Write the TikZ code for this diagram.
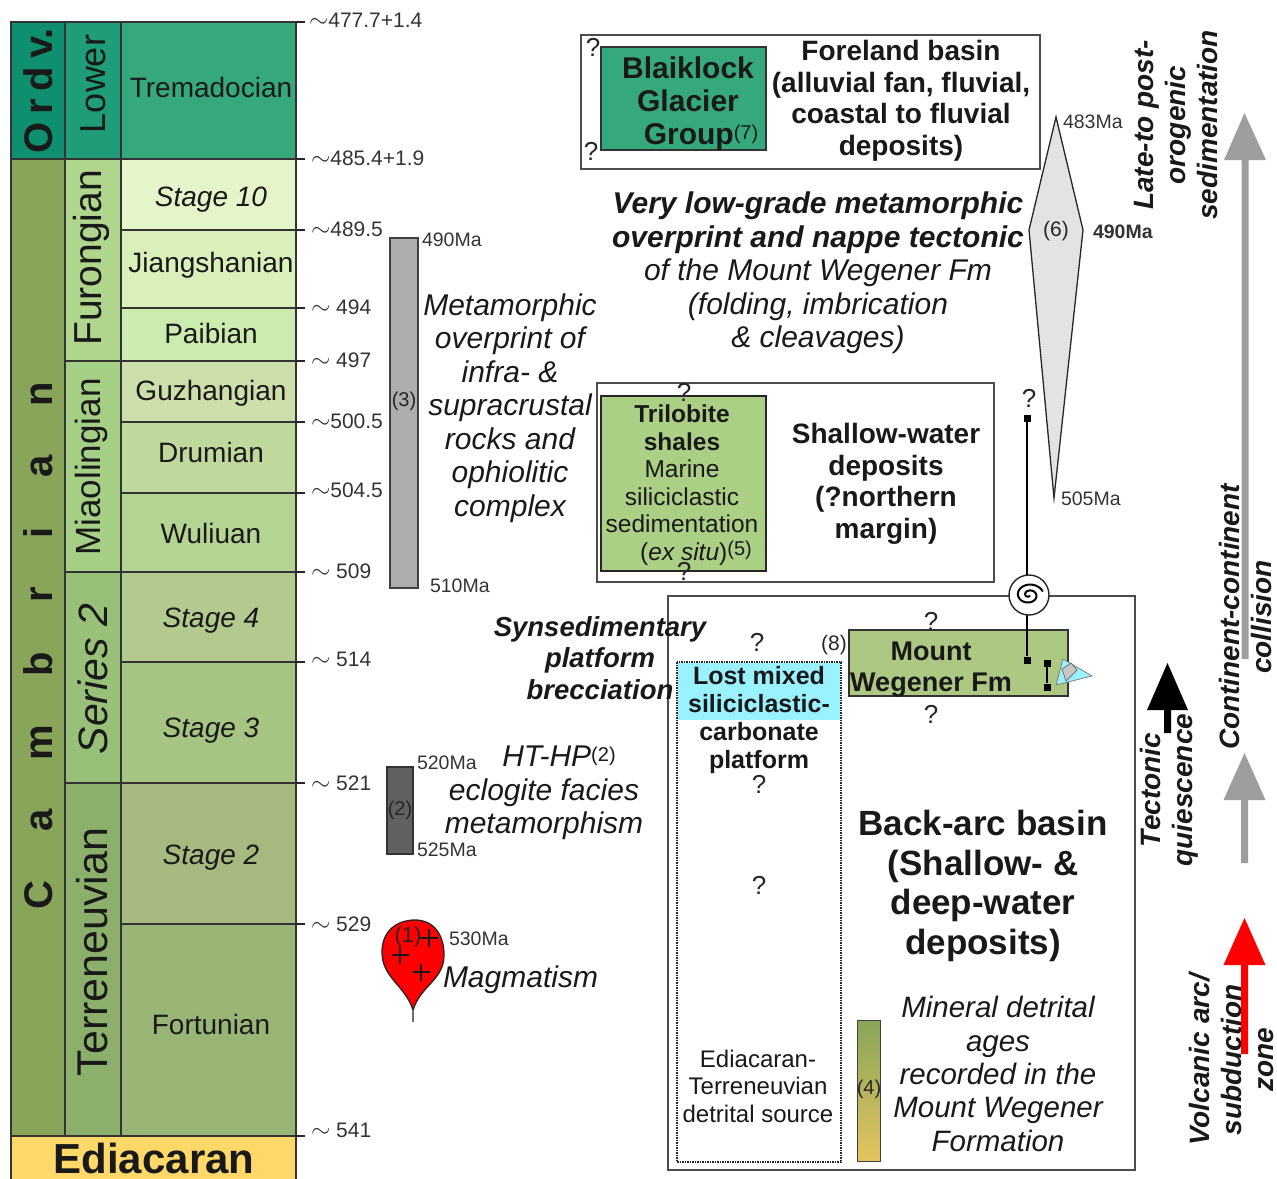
\documentclass[tikz,border=0pt]{standalone}
\usepackage{fontspec}
\setmainfont{Liberation Sans}
\newcommand\FS[2]{\fontsize{#1}{#2}\selectfont}
\newcommand\Sup[1]{\raisebox{5pt}{\FS{20}{20}\mdseries\upshape #1}}
\newcommand\Tld{{\FS{26}{26}$\sim$}}
\definecolor{cOrd}{HTML}{0E9070}
\definecolor{cLow}{HTML}{1F9C78}
\definecolor{cTre}{HTML}{36A97C}
\definecolor{cCam}{HTML}{88A55A}
\definecolor{cFur}{HTML}{B0D58C}
\definecolor{cS10}{HTML}{E6F5C9}
\definecolor{cJia}{HTML}{D9F0BB}
\definecolor{cPai}{HTML}{CCEBAE}
\definecolor{cGuz}{HTML}{CCDFAA}
\definecolor{cDru}{HTML}{BFD99D}
\definecolor{cWul}{HTML}{B3D492}
\definecolor{cMia}{HTML}{A6CF86}
\definecolor{cSt4}{HTML}{B3CA8E}
\definecolor{cSt3}{HTML}{A6C583}
\definecolor{cSe2}{HTML}{99C078}
\definecolor{cSt2}{HTML}{A6BA80}
\definecolor{cFor}{HTML}{99B575}
\definecolor{cTer}{HTML}{8CB06C}
\definecolor{cEdi}{HTML}{FED96A}
\definecolor{cMW}{HTML}{ADC883}
\definecolor{cTri}{HTML}{ABCF85}
\definecolor{cCy}{HTML}{9AF2FF}
\tikzset{
  cell/.style={draw=black!80,line width=1.3pt},
  frame/.style={draw=black!70,line width=1.6pt,fill=white},
  txt/.style={inner sep=0pt,outer sep=0pt,align=center,text=black!90},
  stg/.style={txt,font=\FS{28}{32},text height=20pt,text depth=6pt},
  ser/.style={txt,rotate=90,font=\FS{39}{39}},
  sys/.style={txt,rotate=90,font=\FS{40}{40}\bfseries},
  age/.style={txt,anchor=west,font=\FS{21}{21},text=black!80},
  ma/.style={txt,anchor=west,font=\FS{19.5}{20},text=black!80},
  qm/.style={txt,font=\FS{26}{26},text=black!85},
  num/.style={txt,font=\FS{20}{20},text=black!85},
  ital/.style={txt,font=\FS{30}{33.5}\itshape},
  bold/.style={txt,font=\FS{28}{31.5}\bfseries},
  side/.style={txt,rotate=90,font=\FS{28}{32}\bfseries\itshape},
  tick/.style={draw=black!85,line width=1.2pt},
  sq/.style={fill=black,inner sep=0pt,minimum size=7pt,draw=none,rectangle},
}
\begin{document}
\begin{tikzpicture}[x=1pt,y=-1pt]
\useasboundingbox (0,0) rectangle (1277,1178);
\clip (0,0) rectangle (1277,1178);
% system column
\fill[cOrd] (11,22) rectangle (65,159);
\fill[cCam] (11,159) rectangle (65,1136);
\draw[cell] (11,22) rectangle (65,159);
\draw[cell] (11,159) rectangle (65,1136);
% series column
\draw[cell,fill=cLow] (65,22) rectangle (121,159);
\draw[cell,fill=cFur] (65,159) rectangle (121,361);
\draw[cell,fill=cMia] (65,361) rectangle (121,572);
\draw[cell,fill=cSe2] (65,572) rectangle (121,783);
\draw[cell,fill=cTer] (65,783) rectangle (121,1136);
% stage column
\draw[cell,fill=cTre] (121,22) rectangle (296,159);
\draw[cell,fill=cS10] (121,159) rectangle (296,230);
\draw[cell,fill=cJia] (121,230) rectangle (296,308);
\draw[cell,fill=cPai] (121,308) rectangle (296,361);
\draw[cell,fill=cGuz] (121,361) rectangle (296,422);
\draw[cell,fill=cDru] (121,422) rectangle (296,493);
\draw[cell,fill=cWul] (121,493) rectangle (296,572);
\draw[cell,fill=cSt4] (121,572) rectangle (296,662);
\draw[cell,fill=cSt3] (121,662) rectangle (296,783);
\draw[cell,fill=cSt2] (121,783) rectangle (296,924);
\draw[cell,fill=cFor] (121,924) rectangle (296,1136);
\draw[cell,fill=cEdi] (11,1136) rectangle (296,1190);
% ticks
\foreach \y in {22,159,230,308,361,422,493,572,662,783,924,1136}
  \draw[tick] (296,\y) -- (305,\y);
% column labels
\node[sys] (ord) at (38,91) {\spaceskip=8pt\relax O r d v.};
\node[sys] (cam) at (38,646) {\spaceskip=49pt\relax C a m b r i a n};
\node[txt,font=\FS{42}{42}\bfseries] (edi) at (154,1158) {Ediacaran};
\node[ser,font=\FS{36}{36}] (low) at (93,84) {Lower};
\node[ser] (fur) at (91,258) {Furongian};
\node[ser,font=\FS{35}{35}] (mia) at (91,467) {Miaolingian};
\node[ser,font=\FS{41}{41}\itshape] (se2) at (93,679) {Series 2};
\node[ser,font=\FS{43}{43}] (ter) at (92,952) {Terreneuvian};
\node[stg] (tre) at (211,90) {Tremadocian};
\node[stg,font=\FS{28}{32}\itshape] (s10) at (211,199) {Stage 10};
\node[stg] (jia) at (211,265) {Jiangshanian};
\node[stg] (pai) at (211,336) {Paibian};
\node[stg] (guz) at (211,393) {Guzhangian};
\node[stg] (dru) at (211,455) {Drumian};
\node[stg] (wul) at (211,536) {Wuliuan};
\node[stg,font=\FS{28}{32}\itshape] (st4) at (211,620) {Stage 4};
\node[stg,font=\FS{28}{32}\itshape] (st3) at (211,730) {Stage 3};
\node[stg,font=\FS{28}{32}\itshape] (st2) at (211,857) {Stage 2};
\node[stg] (fot) at (211,1027) {Fortunian};
% ages
\node[age] (a1) at (309,20) {\Tld477.7+1.4};
\node[age] (a2) at (311,158) {\Tld485.4+1.9};
\node[age] (a3) at (311,229) {\Tld489.5};
\node[age] (a4) at (311,307) {\Tld\ 494};
\node[age] (a5) at (311,360) {\Tld\ 497};
\node[age] (a6) at (311,421) {\Tld500.5};
\node[age] (a7) at (311,490) {\Tld504.5};
\node[age] (a8) at (311,571) {\Tld\ 509};
\node[age] (a9) at (311,659) {\Tld\ 514};
\node[age] (a10) at (311,783) {\Tld\ 521};
\node[age] (a11) at (311,924) {\Tld\ 529};
\node[age] (a12) at (311,1130) {\Tld\ 541};
% bars
\draw[draw=black!75,line width=1.3pt,fill=black!32] (390,238) rectangle (418,588);
\node[num] (n3) at (404,401) {(3)};
\draw[draw=black!80,line width=1.3pt,fill=black!62] (387,767) rectangle (413,854);
\node[num] (n2) at (400,810) {(2)};
\node[ma] (m490) at (422,240) {490Ma};
\node[ma] (m510) at (430,586) {510Ma};
\node[ma] (m520) at (417,763) {520Ma};
\node[ma] (m525) at (417,850) {525Ma};
\node[ma] (m530) at (449,939) {530Ma};
% drop
\draw[draw=black!85,line width=1.3pt,fill=red]
  (413,1010) .. controls (405,985) and (382,978) .. (382,952)
  .. controls (382,930) and (398,920) .. (415,920)
  .. controls (434,920) and (444,935) .. (444,955)
  .. controls (444,980) and (421,985) .. (413,1010) -- (413,1022) -- (413,1010);
\draw[line width=1.4pt,black!90] (420,938) -- (438,938) (429,929) -- (429,947)
  (392,955) -- (409,955) (400,947) -- (400,964)
  (413,972) -- (430,972) (421,964) -- (421,981);
\node[num,font=\FS{22}{22}] (n1) at (408,937) {(1)};
\node[ital,anchor=west] (mag) at (443,980) {Magmatism};
\node[ital] (hthp) at (544,793) {\hspace*{30pt}HT-HP\Sup{(2)}\\eclogite facies\\metamorphism};
\node[ital] (meta) at (510,408) {Metamorphic\\overprint of\\infra- \&\\supracrustal\\rocks and\\ophiolitic\\complex};
% foreland
\draw[frame] (581,35) rectangle (1040,169);
\draw[draw=black!80,line width=1.3pt,fill=cTre] (601,47) rectangle (766,150);
\node[txt,font=\FS{30}{33}\bfseries] (bla) at (688,104) {Blaiklock\\Glacier\\\hspace*{26pt}Group\Sup{(7)}};
\node[bold] (fore) at (901,101) {Foreland basin\\(alluvial fan, fluvial,\\coastal to fluvial\\deposits)};
\node[qm] (q1) at (593,47) {?};
\node[qm] (q2) at (591,151) {?};
% very low
\node[txt,font=\FS{30}{33.5}\itshape] (vlg) at (818,273) {\bfseries Very low-grade metamorphic\\\bfseries overprint and nappe tectonic\\of the Mount Wegener Fm\\(folding, imbrication\\\& cleavages)};
% shallow
\draw[frame] (597,383) rectangle (994,582);
\draw[draw=black!85,line width=1.3pt,fill=cTri] (601,396) rectangle (766,571);
\node[txt,font=\FS{24.5}{27.5}] (tri) at (682,485) {\bfseries Trilobite\\\bfseries shales\\Marine\\siliciclastic\\sedimentation\\\hspace*{28pt}(\textit{ex situ})\Sup{(5)}};
\node[bold] (sha) at (886,484) {Shallow-water\\deposits\\(?northern\\margin)};
\node[qm] (q3) at (684,392) {?};
\node[qm] (q4) at (684,571) {?};
% back-arc
\draw[frame] (668,596) rectangle (1135,1170);
\fill[cCy] (678,663) rectangle (840,720);
\draw[black!85,line width=1.5pt,densely dotted] (677,662) rectangle (841,1162);
\node[txt,font=\FS{25}{28}\bfseries] (lost) at (759,720) {Lost mixed\\siliciclastic-\\carbonate\\platform};
\node[txt,font=\FS{24}{27.5}] (edis) at (758,1086) {Ediacaran-\\Terreneuvian\\detrital source};
\node[qm] (q5) at (757,642) {?};
\node[qm] (q6) at (759,784) {?};
\node[qm] (q7) at (759,885) {?};
\node[txt,font=\FS{27.5}{31.5}\bfseries\itshape] (syn) at (600,658) {Synsedimentary\\platform\\brecciation};
\draw[draw=black!80,line width=1.3pt,fill=cMW] (849,630) rectangle (1068,696);
\node[txt,font=\FS{27}{31}\bfseries] (mw) at (931,670) {Mount\\Wegener Fm};
\node[num,font=\FS{21}{21}] (n8) at (834,645) {(8)};
\node[qm] (q8) at (931,621) {?};
\node[qm] (q9) at (931,714) {?};
\node[txt,font=\FS{35}{39.5}\bfseries] (bab) at (983,886) {Back-arc basin\\(Shallow- \&\\deep-water\\deposits)};
\node[txt,font=\FS{29.5}{33.3}\itshape] (min) at (998,1074) {Mineral detrital\\ages\\recorded in the\\Mount Wegener\\Formation};
\shade[top color=cCam,bottom color=cEdi!90!black] (857,1020) rectangle (880,1161);
\draw[black!75,line width=1pt] (857,1020) rectangle (880,1161);
\node[num] (n4) at (869,1089) {(4)};
% spiral line
\node[sq] (s1) at (1027,418) {};
\node[sq] (s2) at (1027,660) {};
\node[qm] (q10) at (1029,398) {?};
\draw[black,line width=1.3pt] (s1) -- (s2);
\node[draw=black!85,fill=white,line width=1.4pt,circle,minimum size=40pt,inner sep=0pt] (spi) at (1029,595) {};
\draw[black,line width=2pt,line cap=round] plot[domain=60:700,samples=60,smooth,variable=\t]
  ({1029+0.0205*\t*cos(\t)},{595+0.0165*\t*sin(\t)});
% I-beam and clast
\node[sq] (s3) at (1047,663) {};
\node[sq] (s4) at (1047,687) {};
\draw[black,line width=1.6pt] (s3) -- (s4);
\draw[draw=black!50,line width=0.8pt,fill=cCy] (1063,659) -- (1092,676) -- (1056,685) -- cycle;
\draw[draw=black!60,line width=0.7pt,fill=black!22] (1062,669) -- (1071,663) -- (1077,670) -- (1066,681) -- cycle;
% lozenge
\draw[draw=black!85,line width=1.3pt,fill=black!11] (1056,117) -- (1083,230) -- (1054,498) -- (1029,230) -- cycle;
\node[num,font=\FS{21}{21}] (n6) at (1056,231) {(6)};
\node[ma] (m483) at (1063,122) {483Ma};
\node[ma,font=\FS{19.5}{20}\bfseries] (m490b) at (1093,232) {490Ma};
\node[ma] (m505) at (1061,499) {505Ma};
% side arrows
\fill[black!38] (1241.5,659) rectangle (1248.5,150) (1244.5,113) -- (1266,160) -- (1224,160) -- cycle;
\fill[black!38] (1241,863) rectangle (1248,790) (1244.5,753) -- (1265.5,800) -- (1223.5,800) -- cycle;
\fill[black] (1164,733) rectangle (1171,700) (1167.5,663) -- (1188,710) -- (1147,710) -- cycle;
\fill[red] (1241,1054) rectangle (1248,955) (1244.5,918) -- (1265.5,965) -- (1223.5,965) -- cycle;
\node[side] (lat) at (1176,125) {Late-to post-\\orogenic\\sedimentation};
\node[side] (coc) at (1245,617) {Continent-continent\\collision};
\node[side] (tec) at (1169,790) {Tectonic\\quiescence};
\node[side] (vol) at (1231,1060) {Volcanic arc/\\subduction\\zone};
\end{tikzpicture}
\end{document}
